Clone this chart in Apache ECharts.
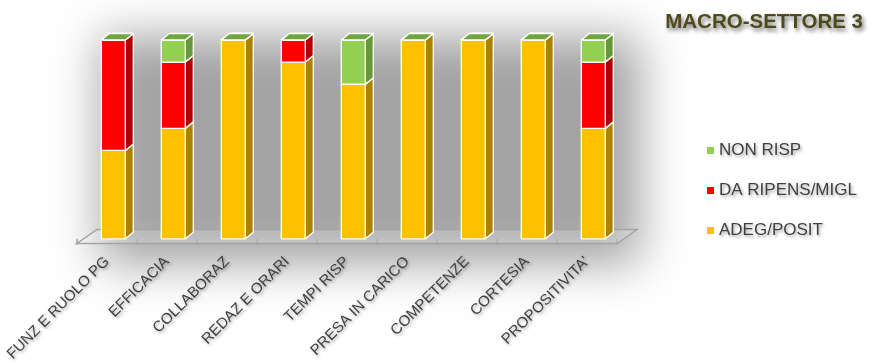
<!DOCTYPE html>
<html>
<head>
<meta charset="utf-8">
<script src="https://cdn.jsdelivr.net/npm/echarts@6/dist/echarts.min.js"></script>
<style>
  html, body { margin: 0; padding: 0; background: #ffffff; }
  #chart { width: 884px; height: 364px; }
</style>
</head>
<body>
<div id="chart"></div>
<script>
// Survey results per item (number of answers, stacked to the total)
const categories = ['FUNZ E RUOLO PG', 'EFFICACIA', 'COLLABORAZ', 'REDAZ E ORARI', 'TEMPI RISP',
                    'PRESA IN CARICO', 'COMPETENZE', 'CORTESIA', "PROPOSITIVITA'"];
const adegPosit   = [4, 5, 9, 8, 7, 9, 9, 9, 5];
const daRipens    = [5, 3, 0, 1, 0, 0, 0, 0, 3];
const nonRisp     = [0, 1, 0, 0, 2, 0, 0, 0, 1];
const seriesNames = ['ADEG/POSIT', 'DA RIPENS/MIGL', 'NON RISP'];
const total = 9;

const FONT = "'Liberation Sans', Arial, sans-serif";
const GRID = { left: 77, top: 40, width: 540, height: 200 };
const SHIFT_X = 6.3;      // bars stand a little behind the floor's front edge
const DEPTH_X = 8, DEPTH_Y = 6.5;

const palette = [
  { face: '#FFC000', side: '#AD8100', top: '#D8A400' },
  { face: '#FF0000', side: '#B00000', top: '#D40000' },
  { face: '#92D050', side: '#66983A', top: '#70A640' }
];

function stackData(values, below) {
  return values.map((v, i) => {
    const base = below.reduce((s, arr) => s + arr[i], 0);
    return [i, base, base + v];
  });
}

function makeRender(col) {
  return function (params, api) {
    const i = api.value(0);
    const pb = api.coord([i, api.value(1)]);
    const pt = api.coord([i, api.value(2)]);
    const w = api.size([1, 0])[0] * 0.4;
    const cx = pb[0] + SHIFT_X;
    const x0 = cx - w / 2, x1 = cx + w / 2;
    const yb = pb[1], yt = pt[1];
    const stroke = { stroke: '#ffffff', lineWidth: 1.3, lineJoin: 'round' };
    const children = [];
    if (yb - yt > 0.01) {
      children.push({
        type: 'polygon',
        shape: { points: [[x1, yt], [x1 + DEPTH_X, yt - DEPTH_Y], [x1 + DEPTH_X, yb - DEPTH_Y], [x1, yb]] },
        style: Object.assign({ fill: col.side }, stroke)
      });
      children.push({
        type: 'rect',
        shape: { x: x0, y: yt, width: w, height: yb - yt },
        style: Object.assign({ fill: col.face }, stroke)
      });
    }
    children.push({
      type: 'polygon',
      shape: { points: [[x0, yt], [x1, yt], [x1 + DEPTH_X, yt - DEPTH_Y], [x0 + DEPTH_X, yt - DEPTH_Y]] },
      style: Object.assign({ fill: col.top }, stroke)
    });
    return { type: 'group', children: children };
  };
}

const layers = [adegPosit, daRipens, nonRisp];
const series = layers.map((vals, k) => ({
  name: seriesNames[k],
  type: 'custom',
  z: 3,
  itemStyle: { color: palette[k].face },
  renderItem: makeRender(palette[k]),
  encode: { x: 0, y: [1, 2] },
  data: stackData(vals, layers.slice(0, k))
}));

// floor of the 3D plot and the soft shadow behind it
const gBottom = GRID.top + GRID.height;
const fl = GRID.left, fr = GRID.left + GRID.width;
const floorFront = gBottom + 3.5, floorBack = gBottom - 10.5, floorDx = 20;
const OFF = 3000;

const textShadow = {
  textShadowColor: 'rgba(0,0,0,0.35)', textShadowBlur: 3,
  textShadowOffsetX: 1.5, textShadowOffsetY: 1.5
};

const chart = echarts.init(document.getElementById('chart'), null, { renderer: 'canvas' });
chart.setOption({
  animation: false,
  backgroundColor: '#ffffff',
  color: palette.map(p => p.face),
  title: {
    text: 'MACRO-SETTORE 3',
    right: 16, top: 7,
    textStyle: {
      fontFamily: FONT, fontSize: 20.5, fontWeight: 'bold', color: '#4d4a1c',
      textShadowColor: 'rgba(0,0,0,0.55)', textShadowBlur: 4,
      textShadowOffsetX: 2, textShadowOffsetY: 3
    }
  },
  legend: {
    data: ['NON RISP', 'DA RIPENS/MIGL', 'ADEG/POSIT'],
    orient: 'vertical',
    left: 702, top: 137,
    icon: 'rect',
    itemWidth: 7, itemHeight: 7,
    itemGap: 23,
    textStyle: Object.assign({ fontFamily: FONT, fontSize: 17, color: '#404040', lineHeight: 17 }, textShadow)
  },
  grid: GRID,
  xAxis: {
    type: 'category',
    data: categories,
    offset: 3.5,
    axisLine: { show: false },
    axisTick: { show: true, length: 6, lineStyle: { color: '#a0a0a0', width: 1.5 } },
    axisLabel: Object.assign({
      rotate: 45, margin: 17, interval: 0,
      fontFamily: FONT, fontSize: 15, color: '#404040'
    }, textShadow)
  },
  yAxis: { type: 'value', min: 0, max: total, show: false },
  graphic: [
    {
      type: 'rect', z: 0, silent: true,
      shape: { x: 100 - OFF, y: 36, width: 540, height: 228 },
      style: { fill: '#000', shadowBlur: 45, shadowColor: 'rgba(0,0,0,0.36)', shadowOffsetX: OFF }
    },
    {
      type: 'polygon', z: 1, silent: true,
      shape: { points: [[fl, floorFront], [fr, floorFront], [fr + floorDx, floorBack], [fl + floorDx, floorBack]] },
      style: { fill: 'rgba(255,255,255,0.18)', stroke: '#a4a4a4', lineWidth: 1.5 }
    }
  ],
  series: series
});
</script>
</body>
</html>
